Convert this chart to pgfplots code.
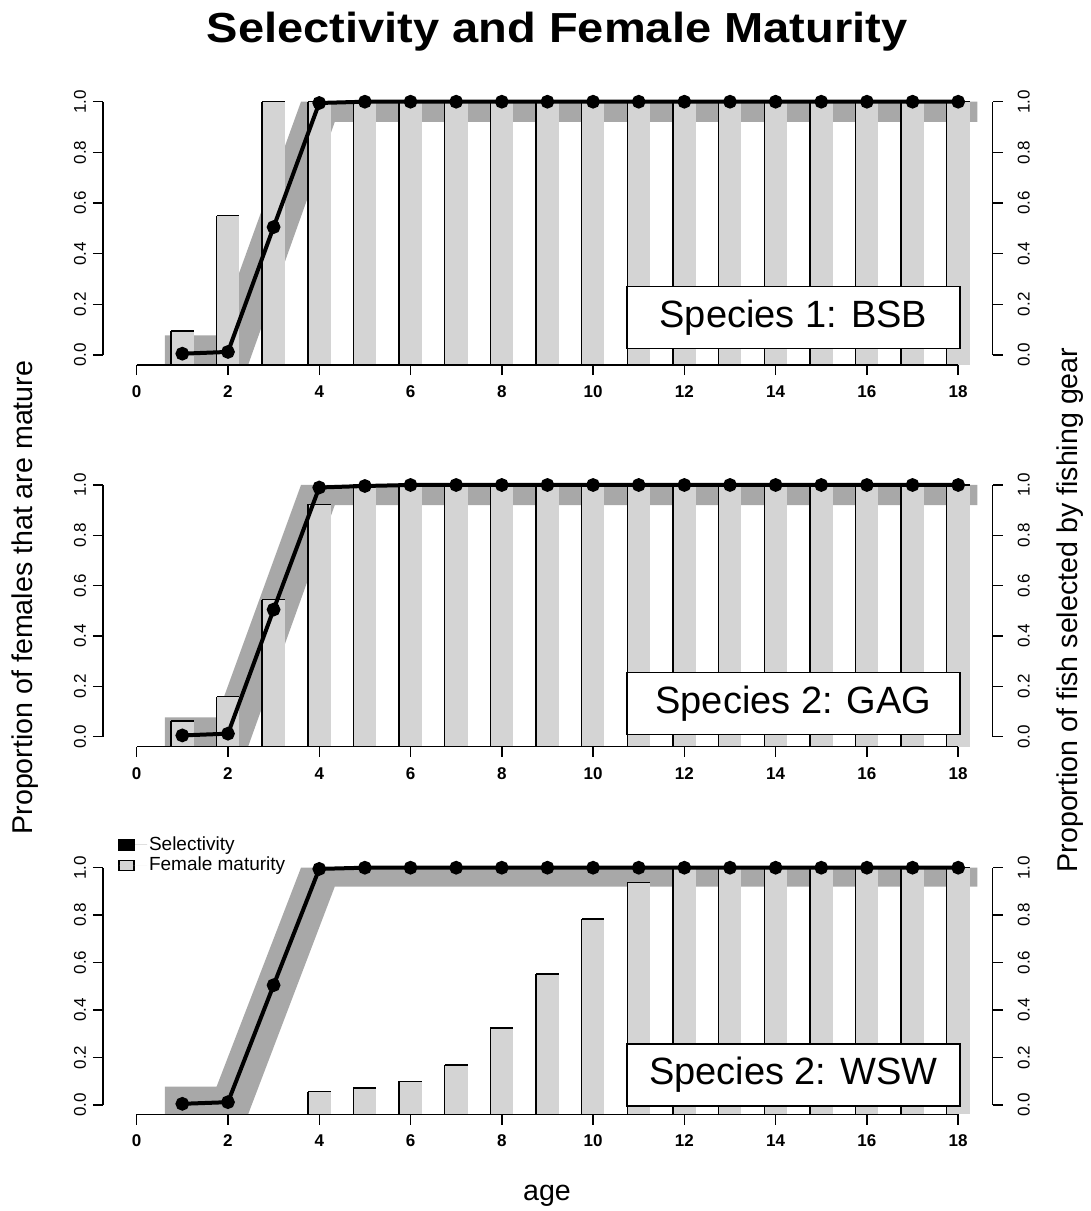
\documentclass[border=0pt]{standalone}
\usepackage{fontspec}
\setmainfont{Liberation Sans}
\usepackage{pgfplots}
\usepackage{pgfplotstable}
\pgfplotsset{compat=1.18}

\definecolor{barfill}{RGB}{212,212,212}
\definecolor{shadowgray}{RGB}{168,168,168}

% ---------------- data ----------------
\pgfplotstableread{
age mat
1 0.095
2 0.55
3 1.0
4 1.0
5 1.0
6 1.0
7 1.0
8 1.0
9 1.0
10 1.0
11 1.0
12 1.0
13 1.0
14 1.0
15 1.0
16 1.0
17 1.0
18 1.0
}\bsbmat

\pgfplotstableread{
age mat
1 0.062
2 0.159
3 0.545
4 0.923
5 1.0
6 1.0
7 1.0
8 1.0
9 1.0
10 1.0
11 1.0
12 1.0
13 1.0
14 1.0
15 1.0
16 1.0
17 1.0
18 1.0
}\gagmat

\pgfplotstableread{
age mat
4 0.056
5 0.072
6 0.100
7 0.169
8 0.325
9 0.552
10 0.784
11 0.937
12 1.0
13 1.0
14 1.0
15 1.0
16 1.0
17 1.0
18 1.0
}\wswmat

\pgfplotstableread{
age sel
1 0.005
2 0.012
3 0.505
4 0.995
5 1.0
6 1.0
7 1.0
8 1.0
9 1.0
10 1.0
11 1.0
12 1.0
13 1.0
14 1.0
15 1.0
16 1.0
17 1.0
18 1.0
}\bsbsel

\pgfplotstableread{
age sel
1 0.005
2 0.012
3 0.505
4 0.990
5 0.996
6 1.0
7 1.0
8 1.0
9 1.0
10 1.0
11 1.0
12 1.0
13 1.0
14 1.0
15 1.0
16 1.0
17 1.0
18 1.0
}\gagsel

\pgfplotstableread{
age sel
1 0.005
2 0.012
3 0.505
4 0.995
5 1.0
6 1.0
7 1.0
8 1.0
9 1.0
10 1.0
11 1.0
12 1.0
13 1.0
14 1.0
15 1.0
16 1.0
17 1.0
18 1.0
}\wswsel

% drop shadow behind the selectivity curve
\pgfplotstableread{
x y
0.62 -0.04
0.62 0.077
1.75 0.077
3.60 1.00
18.42 1.00
18.42 0.92
4.34 0.92
2.44 -0.04
}\shadowpoly

\pgfplotsset{
  panel/.style={
    scale only axis, width=444.85pt, anchor=south west, clip=false,
    xmin=-0.738, xmax=18.756, ymin=-0.04, ymax=1.04,
    axis x line*=bottom, axis y line*=left, axis line style={draw=none},
    tick align=outside, major tick length=5pt,
    tick style={black, line width=0.7pt},
    xtick={0,2,...,18}, ytick={0,0.2,0.4,0.6,0.8,1},
    minor tick num=0,
    /pgf/number format/assume math mode=true,
    xticklabel shift=1.5pt,
    xticklabel style={font=\fontsize{8.5}{10}\selectfont\bfseries,
      text height=6.2pt, text depth=0pt},
    yticklabel style={font=\fontsize{8.5}{10}\selectfont, rotate=90, anchor=south,
      /pgf/number format/.cd, fixed, fixed zerofill, precision=1},
  },
  twin/.style={
    scale only axis, width=444.85pt, anchor=south west, clip=false,
    xmin=-0.738, xmax=18.756, ymin=-0.04, ymax=1.04,
    axis x line=none, axis y line*=right, axis line style={draw=none},
    tick align=outside, major tick length=5pt,
    tick style={black, line width=0.7pt},
    ytick={0,0.2,0.4,0.6,0.8,1},
    minor tick num=0,
    /pgf/number format/assume math mode=true,
    yticklabel shift=4pt,
    yticklabel style={font=\fontsize{8.5}{10}\selectfont, rotate=90, anchor=north,
      /pgf/number format/.cd, fixed, fixed zerofill, precision=1},
  },
  shadow/.style={fill=shadowgray, draw=none, forget plot},
  barbody/.style={draw=none, forget plot,
    error bars/.cd, y dir=minus, y explicit, error mark=none,
    error bar style={draw=barfill, line width=11.41pt}},
  barleft/.style={draw=none, forget plot,
    error bars/.cd, y dir=minus, y explicit, error mark=none,
    error bar style={draw=black, line width=0.7pt}},
  bartop/.style={draw=none, forget plot,
    error bars/.cd, x dir=both, x fixed=0.25, error mark=none,
    error bar style={draw=black, line width=0.7pt}},
  selline/.style={black, line width=2pt, mark=*, mark size=2.4pt,
    mark options={fill=black}, forget plot},
}

% R-style axis lines spanning the tick range only
\newcommand{\raxes}{%
  \draw[line width=0.7pt] (axis cs:0,-0.04) -- (axis cs:18,-0.04);
  \draw[line width=0.7pt] (axis cs:-0.738,0) -- (axis cs:-0.738,1);
  \draw[line width=0.7pt] (axis cs:18.756,0) -- (axis cs:18.756,1);
}

\begin{document}
\begin{tikzpicture}
\useasboundingbox (0,0) rectangle (545.5pt,605.5pt);

% ---------- panel 1: BSB ----------
\begin{axis}[panel, at={(51.5pt,422.95pt)}, height=136.75pt]
  \addplot[shadow] table {\shadowpoly} -- cycle;
  \addplot[barbody] table[x=age, y=mat, y error expr=\thisrow{mat}+0.04] {\bsbmat};
  \addplot[barleft] table[x expr=\thisrow{age}-0.25, y=mat, y error expr=\thisrow{mat}+0.04] {\bsbmat};
  \addplot[bartop] table[x=age, y=mat] {\bsbmat};
  \addplot[selline] table[x=age, y=sel] {\bsbsel};
  \raxes
\end{axis}
\begin{axis}[twin, at={(51.5pt,422.95pt)}, height=136.75pt]
\end{axis}

% ---------- panel 2: GAG ----------
\begin{axis}[panel, at={(51.5pt,232.12pt)}, height=135.92pt]
  \addplot[shadow] table {\shadowpoly} -- cycle;
  \addplot[barbody] table[x=age, y=mat, y error expr=\thisrow{mat}+0.04] {\gagmat};
  \addplot[barleft] table[x expr=\thisrow{age}-0.25, y=mat, y error expr=\thisrow{mat}+0.04] {\gagmat};
  \addplot[bartop] table[x=age, y=mat] {\gagmat};
  \addplot[selline] table[x=age, y=sel] {\gagsel};
  \raxes
\end{axis}
\begin{axis}[twin, at={(51.5pt,232.12pt)}, height=135.92pt]
\end{axis}

% ---------- panel 3: WSW ----------
\begin{axis}[panel, at={(51.5pt,48.25pt)}, height=128.14pt,
  legend style={at={(axis description cs:0.0169,1.0944)}, anchor=north west,
    draw=none, fill=none, inner sep=0pt, row sep=0pt,
    nodes={inner sep=1pt, anchor=west},
    font=\fontsize{9.5}{11}\selectfont},
  legend cell align=left,
  legend image code/.code={
    \draw[#1, line width=0.6pt] (0pt,-2.65pt) rectangle (7.5pt,2.65pt);
    \path[draw=none] (0pt,0pt) -- (14pt,0pt);
  }]
  \addlegendimage{draw=black, fill=black}
  \addlegendentry{Selectivity}
  \addlegendimage{draw=black, fill=barfill}
  \addlegendentry{Female maturity}
  \addplot[shadow] table {\shadowpoly} -- cycle;
  \addplot[barbody] table[x=age, y=mat, y error expr=\thisrow{mat}+0.04] {\wswmat};
  \addplot[barleft] table[x expr=\thisrow{age}-0.25, y=mat, y error expr=\thisrow{mat}+0.04] {\wswmat};
  \addplot[bartop] table[x=age, y=mat] {\wswmat};
  \addplot[selline] table[x=age, y=sel] {\wswsel};
  \raxes
\end{axis}
\begin{axis}[twin, at={(51.5pt,48.25pt)}, height=128.14pt]
\end{axis}

% species labels
\tikzset{species/.style={draw=black, line width=0.75pt, fill=white,
  minimum width=166.65pt, minimum height=30.8pt, inner sep=0pt,
  font=\fontsize{19}{22}\selectfont}}
\node[species] at (396.7pt,446.75pt) {Species 1: BSB};
\node[species] at (396.7pt,253.75pt) {Species 2: GAG};
\node[species] at (396.7pt,68pt) {Species 2: WSW};

% titles and axis labels
\node[font=\fontsize{21}{24}\selectfont\bfseries] at (278.5pt,589.5pt) {\scalebox{1.12}[1]{Selectivity and Female Maturity}};
\node[rotate=90, font=\fontsize{14.3}{17}\selectfont] at (12.5pt,306.7pt) {Proportion of females that are mature};
\node[rotate=90, font=\fontsize{14.3}{17}\selectfont] at (535pt,300.5pt) {Proportion of fish selected by fishing gear};
\node[font=\fontsize{14.3}{17}\selectfont] at (273.5pt,7.5pt) {age};
\end{tikzpicture}
\end{document}
